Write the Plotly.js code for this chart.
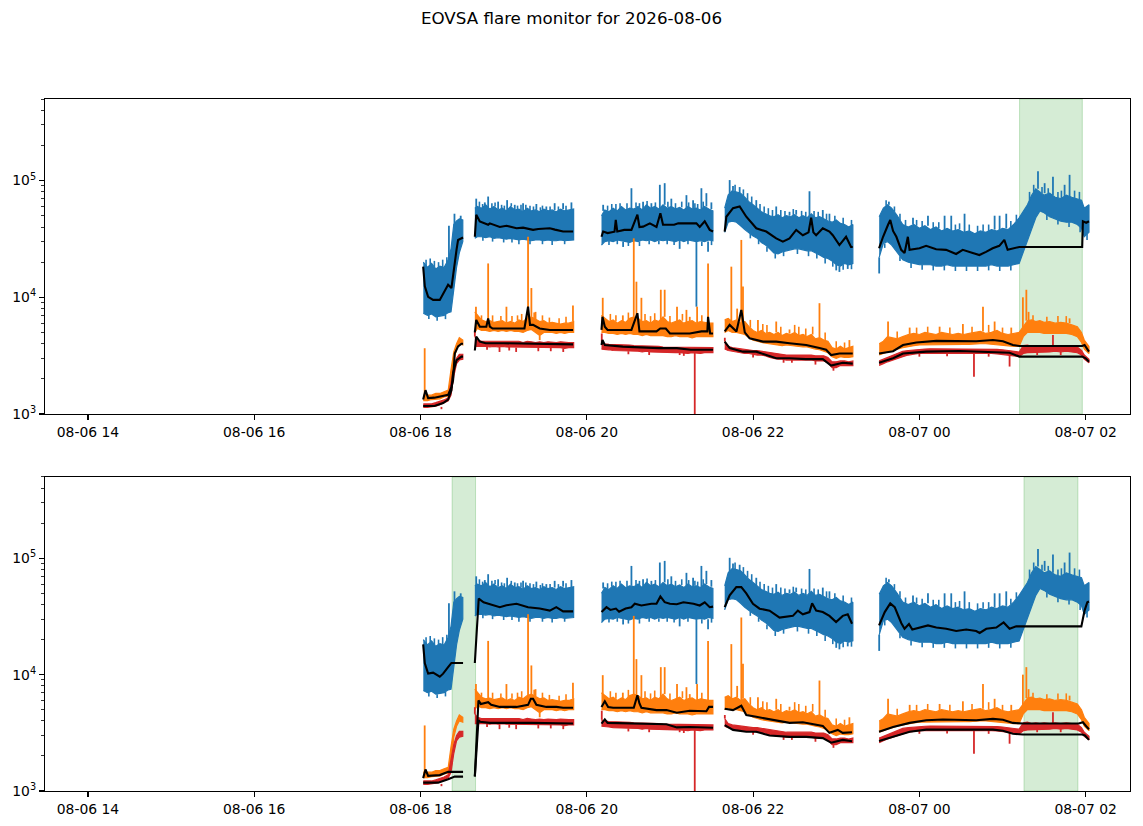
<!DOCTYPE html>
<html>
<head>
<meta charset="utf-8">
<script src="https://cdn.plot.ly/plotly-3.0.1.min.js"></script>
<style>
  body { margin: 0; background: #fff; }
  #chart { width: 1143px; height: 826px; }
</style>
</head>
<body>
<div id="chart"></div>
<script>
// time axis: minutes after 2026-08-06 18:00 UT, null marks a data gap
// all flux values below are in units of 1000
const gridT = [
  2, 5, 8, 11, 14, 17, 20, 22, 24, 26, 28, 30.5, null,
  39.2, 41, 44, 47, 50, 53, 56, 59, 62, 65, 68, 71, 74, 77, 80, 83, 86, 89, 92, 95, 98, 101, 104, 107, 110.5, null,
  130.6, 133, 136, 139, 142, 145, 148, 151, 154, 157, 160, 163, 166, 169, 172, 175, 178, 181, 184, 187, 190, 193, 196, 199, 202, 205, 208, 211, null,
  219.5, 222, 225, 228, 231, 234, 237, 240, 243, 246, 249, 252, 255, 258, 261, 264, 267, 270, 273, 276, 279, 282, 285, 288, 291, 294, 297, 300, 303, 306, 309, 312, null,
  331, 334, 337, 340, 344, 348, 352, 356, 360, 364, 368, 372, 376, 380, 384, 388, 392, 396, 400, 404, 408, 412, 416, 420, 424, 428, 432, 435, 438, 441, 444, 447, 450, 454, 458, 462, 466, 470, 474, 477, 479, 482.4
];

// upper / lower edge of each noisy channel
const blueHi = [
  20, 18, 19.5, 17.5, 18.5, 18, 21, 26, 42, 45, 47, 46, null,
  58, 60, 58, 62, 57, 60, 56, 58, 55, 60, 56, 57, 54, 58, 55, 56, 54, 57, 55, 56, 54, 57, 55, 56, 57, null,
  50, 56, 54, 58, 55, 60, 56, 58, 57, 60, 56, 62, 58, 60, 57, 62, 58, 60, 57, 59, 56, 60, 57, 58, 56, 60, 57, 55, null,
  58, 75, 82, 80, 78, 72, 66, 62, 58, 54, 52, 50, 49, 51, 48, 50, 49, 51, 48, 50, 48, 52, 48, 49, 47, 45, 44, 46, 43, 42, 40, 42, null,
  49, 58, 62, 58, 50, 42, 40, 42, 39, 41, 38, 40, 37, 39, 37, 38, 36, 37, 35, 37, 36, 38, 37, 39, 38, 42, 48, 55, 62, 75, 85, 80, 75, 78, 72, 70, 75, 72, 70, 68, 58, 62
];
const blueLo = [
  7.3, 7.0, 7.2, 6.8, 6.9, 7.0, 7.4, 7.5, 11, 18, 24, 30, null,
  32, 33, 33, 32.5, 33, 32, 32.5, 32, 31.5, 32, 31.5, 31, 31.5, 31, 30.5, 31, 31, 30.5, 31, 30.5, 30.5, 31, 30.5, 30.5, 31, null,
  28, 30, 30.5, 30, 31, 30.5, 30, 29.5, 30.5, 30, 31, 30.5, 31, 30, 31, 30.5, 31, 30.5, 30, 31, 30, 31, 30.5, 30, 30.5, 30, 31, 30.5, null,
  36, 44, 45, 44, 41, 38, 35.5, 33.5, 32, 29.5, 28, 26, 24, 23.5, 24.5, 25, 25.5, 26, 26, 25.5, 25, 25, 24, 23, 22, 21.5, 20.5, 19, 18.5, 19.5, 19, 19.5, null,
  22, 29, 30, 28, 24, 21, 20, 19.5, 19, 19, 19, 18.5, 18.5, 19, 18.5, 18.5, 18.5, 18.5, 18.5, 18.5, 18.5, 19, 18.5, 18.5, 18.5, 19, 19.5, 24, 30, 38, 48, 55, 53, 49, 47, 45, 44, 44, 42, 39, 33, 36
];
const orHi = [
  1.45, 1.45, 1.45, 1.5, 1.5, 1.55, 1.6, 2.4, 3.4, 4.0, 4.5, 4.3, null,
  7.5, 7.0, 6.4, 6.2, 6.3, 6.1, 6.2, 6.3, 6.0, 6.2, 6.0, 6.4, 6.2, 6.6, 6.8, 6.5, 6.2, 6.3, 6.0, 6.1, 6.0, 5.9, 6.0, 6.0, 6.2, null,
  7.0, 6.6, 6.2, 6.4, 6.0, 6.3, 6.1, 6.6, 6.8, 6.6, 6.2, 6.3, 6.0, 6.4, 6.2, 6.8, 6.2, 6.0, 6.2, 6.4, 6.0, 6.2, 6.3, 6.0, 6.2, 6.1, 6.0, 6.0, null,
  6.4, 6.6, 6.2, 6.4, 6.0, 6.2, 5.6, 5.2, 5.0, 5.2, 4.9, 5.0, 4.8, 5.0, 4.7, 4.9, 4.8, 5.0, 4.7, 4.8, 4.6, 4.8, 4.4, 4.5, 4.3, 4.2, 3.7, 3.6, 3.8, 3.6, 3.7, 3.8, null,
  4.0, 4.2, 4.6, 4.5, 4.4, 4.6, 4.8, 4.9, 4.8, 5.0, 4.9, 4.8, 5.0, 4.9, 4.8, 4.9, 4.8, 4.9, 5.0, 5.1, 4.9, 5.0, 5.2, 4.9, 4.8, 4.9, 5.0, 5.6, 6.3, 6.4, 6.2, 6.3, 6.1, 6.2, 6.0, 6.1, 6.0, 5.8, 5.6, 5.0, 4.3, 3.8
];
const orLo = [
  1.3, 1.3, 1.33, 1.35, 1.35, 1.4, 1.42, 1.6, 2.9, 3.6, 4.0, 3.9, null,
  5.0, 5.4, 5.2, 5.2, 5.1, 5.2, 5.1, 5.2, 5.1, 5.2, 5.1, 5.1, 5.0, 5.2, 5.3, 5.0, 4.7, 5.0, 5.0, 5.0, 4.9, 5.0, 4.9, 5.0, 5.0, null,
  5.0, 5.0, 4.9, 4.9, 4.8, 4.9, 4.8, 4.9, 4.8, 4.8, 4.7, 4.8, 4.7, 4.7, 4.7, 4.7, 4.6, 4.6, 4.7, 4.6, 4.6, 4.6, 4.5, 4.6, 4.6, 4.6, 4.6, 4.6, null,
  5.0, 5.2, 5.0, 5.0, 4.9, 4.8, 4.5, 4.3, 4.2, 4.1, 4.0, 4.0, 3.9, 3.9, 3.85, 3.9, 3.85, 3.8, 3.8, 3.75, 3.75, 3.7, 3.6, 3.55, 3.45, 3.35, 3.1, 3.0, 3.1, 3.05, 3.05, 3.1, null,
  3.2, 3.3, 3.4, 3.5, 3.6, 3.7, 3.8, 3.85, 3.9, 3.9, 3.95, 3.95, 3.95, 3.95, 3.95, 3.95, 3.95, 3.95, 3.95, 4.0, 4.0, 3.95, 3.95, 3.9, 3.85, 3.8, 3.8, 4.6, 5.0, 5.0, 5.0, 5.0, 4.9, 4.9, 4.9, 4.9, 4.9, 4.8, 4.6, 4.1, 3.6, 3.3
];
const redHi = [
  1.22, 1.22, 1.22, 1.25, 1.28, 1.32, 1.38, 1.9, 2.5, 3.0, 3.25, 3.25, null,
  4.6, 4.3, 4.2, 4.2, 4.15, 4.2, 4.15, 4.2, 4.15, 4.2, 4.15, 4.2, 4.1, 4.2, 4.15, 4.1, 4.15, 4.1, 4.15, 4.1, 4.1, 4.15, 4.1, 4.1, 4.1, null,
  4.1, 4.0, 3.95, 3.95, 3.95, 3.9, 3.9, 3.9, 3.85, 3.85, 3.85, 3.8, 3.8, 3.8, 3.8, 3.75, 3.75, 3.75, 3.75, 3.75, 3.7, 3.7, 3.7, 3.7, 3.7, 3.7, 3.7, 3.7, null,
  4.2, 3.8, 3.7, 3.65, 3.6, 3.55, 3.55, 3.5, 3.5, 3.45, 3.4, 3.35, 3.3, 3.25, 3.25, 3.2, 3.2, 3.2, 3.2, 3.2, 3.2, 3.2, 3.15, 3.15, 3.15, 3.05, 2.8, 2.8, 2.85, 2.85, 2.8, 2.85, null,
  2.85, 2.95, 3.05, 3.15, 3.3, 3.45, 3.5, 3.55, 3.6, 3.6, 3.62, 3.62, 3.62, 3.62, 3.62, 3.62, 3.62, 3.6, 3.6, 3.6, 3.6, 3.6, 3.58, 3.55, 3.5, 3.45, 3.4, 3.85, 3.9, 3.8, 3.85, 3.8, 3.85, 3.8, 3.85, 3.8, 3.85, 3.8, 3.75, 3.5, 3.2, 2.95
];
const redLo = [
  1.14, 1.14, 1.15, 1.17, 1.2, 1.24, 1.3, 1.45, 2.1, 2.7, 2.9, 2.95, null,
  3.8, 3.85, 3.8, 3.8, 3.75, 3.8, 3.75, 3.8, 3.75, 3.75, 3.7, 3.75, 3.7, 3.75, 3.7, 3.7, 3.75, 3.7, 3.7, 3.7, 3.7, 3.7, 3.65, 3.7, 3.7, null,
  3.6, 3.55, 3.55, 3.5, 3.5, 3.5, 3.45, 3.45, 3.45, 3.45, 3.4, 3.45, 3.4, 3.4, 3.4, 3.4, 3.35, 3.35, 3.35, 3.35, 3.35, 3.3, 3.35, 3.35, 3.3, 3.35, 3.35, 3.35, null,
  3.6, 3.5, 3.45, 3.4, 3.35, 3.3, 3.3, 3.25, 3.2, 3.2, 3.15, 3.05, 3.0, 2.95, 2.95, 2.9, 2.9, 2.9, 2.9, 2.9, 2.9, 2.9, 2.85, 2.85, 2.85, 2.75, 2.5, 2.5, 2.6, 2.6, 2.6, 2.6, null,
  2.6, 2.7, 2.8, 2.9, 3.0, 3.1, 3.2, 3.25, 3.3, 3.3, 3.32, 3.32, 3.32, 3.32, 3.32, 3.32, 3.32, 3.3, 3.3, 3.3, 3.3, 3.3, 3.28, 3.25, 3.2, 3.15, 3.1, 3.3, 3.35, 3.35, 3.4, 3.35, 3.4, 3.4, 3.45, 3.4, 3.45, 3.4, 3.35, 3.2, 2.95, 2.75
];

// single-sample spikes: time, level it leaves from, level it reaches
const blueSpkT = [20.5, 24.5, 29, 40.2, 46.4, 48.8, 56, 62.5, 68, 74, 83.6, 90.8, 96.8, 102.9, 108.9,
  131.8, 146.2, 152.2, 160.6, 166.6, 172.7, 176.2, 181, 187, 191.9, 196.7, 199.1, 202.7, 206.3, 207.5, 209.9,
  223.1, 225.5, 230.3, 242.3, 256.7, 266.3, 271.1, 280.7, 290.3, 295.1, 300, 302.3, 308.3,
  331, 338, 355.4, 366.2, 378.2, 383, 392.6, 414.3, 417.9, 422.7, 445.6, 450.4, 456.4, 464.8, 468.4];
const blueSpkFrom = [21, 40, 46, 58, 60, 58, 57, 55, 56, 54, 56, 56, 56, 57, 56,
  55, 30, 58, 56, 58, 57, 62, 60, 31, 58, 57, 30, 56, 60, 30, 57,
  75, 82, 78, 58, 49, 50, 51, 48, 47, 45, 19, 18.5, 19,
  22, 62, 42, 41, 38, 37, 36, 38, 37, 39, 85, 78, 75, 72, 72];
const blueSpkTo = [41, 52, 50, 70, 65, 73, 66, 68, 62, 64, 63, 60, 64, 64, 65,
  62, 27, 86, 66, 64, 92, 95, 70, 26, 75, 68, 8.3, 86, 78, 24.6, 65,
  101, 90, 88, 68, 60, 54, 56, 81, 56, 52, 17, 16.5, 17.5,
  16, 66, 48, 50, 50, 50, 52, 50, 50, 52, 120, 95, 108, 92, 112];

// smaller flickers along the band edges
const blueFuzzT = [4, 7, 10, 13, 16, 19, 6, 12, 18,
  42.5, 44.8, 51.5, 53.8, 58.5, 60.5, 65.5, 70, 72.5, 76, 79, 81.5, 86.5, 88, 93.5, 99.5, 105,
  45, 52, 60, 66, 71, 79, 88, 95, 104,
  135, 138, 141, 144, 149, 155.5, 158, 163.5, 169.5, 178.5, 184, 188.5, 193.5, 198, 200, 204,
  136, 142, 150, 158, 165, 172, 178, 183, 193, 203, 210,
  227, 233, 236, 239, 245, 248, 251, 254, 260, 263, 269, 275, 278, 284, 287, 293, 299, 305, 311,
  238, 244, 250, 256, 262, 272, 280, 286, 292, 297.5, 305, 311,
  336, 342, 346, 350, 358, 362, 370, 374, 386, 389, 396, 402, 406, 410, 426, 430, 439.5, 442.5, 448.5, 453, 460, 462.5, 472, 475.5,
  335, 346, 354, 362, 370, 378, 386, 394, 402, 410, 418, 426, 452, 460, 468, 476, 481];
const blueFuzzFrom = [18, 19, 18, 17.5, 18, 19, 7.1, 6.8, 7.1,
  59, 58, 58, 60, 57, 56, 60, 56, 56, 56, 56, 55, 54, 56, 55, 55, 55,
  33, 32.5, 32, 32, 31, 30.8, 30.7, 30.5, 30.5,
  55, 57, 56, 58, 57, 59, 59, 60, 59, 59, 57, 59, 59, 58, 57, 58,
  30.5, 31, 29.7, 30, 30.7, 30.5, 31, 30.5, 31, 30, 30.7,
  80, 73, 68, 63, 55, 53, 50, 49, 49, 49, 50, 49, 48, 49, 48, 46, 45, 42, 41,
  35, 31, 27, 23.7, 24.7, 26, 25, 23.7, 21.7, 20.3, 19, 19.3,
  61, 54, 46, 41, 41, 40, 39, 39, 37.5, 38, 37, 36, 37, 37, 40, 45, 68, 80, 78, 77, 71, 70, 71, 69,
  29, 22.5, 19.7, 19, 18.7, 18.7, 18.5, 18.5, 18.5, 18.7, 18.5, 18.7, 51, 46, 44, 40, 35];
const blueFuzzTo = [21, 21.5, 20.5, 20, 21, 22, 6.5, 6.3, 6.5,
  66, 63, 64, 65, 62, 61, 64, 61, 62, 62, 61, 60, 59, 61, 60, 60, 61,
  30.5, 30, 29.5, 29.5, 28.5, 28.5, 28.5, 28, 28.5,
  61, 63, 63, 64, 64, 65, 64, 67, 65, 66, 64, 66, 65, 64, 63, 66,
  28, 28.5, 27.5, 27.5, 28.5, 28.5, 28.5, 28, 28.5, 27.5, 28,
  92, 84, 78, 73, 63, 60, 58, 56, 56, 55, 57, 55, 54, 55, 54, 52, 50, 48, 46,
  32, 28.5, 24.5, 21.5, 22.5, 23.5, 22.5, 21.5, 19.5, 18.3, 17.2, 17.4,
  68, 60, 52, 46, 46, 45, 44, 44, 42, 43, 42, 41, 42, 42, 45, 51, 80, 92, 88, 86, 80, 82, 82, 80,
  26.5, 20.5, 17.8, 17.2, 17, 17, 16.8, 16.8, 16.8, 17, 16.8, 17, 46, 42, 40, 36, 31];

const orSpkT = [3, 40, 48.8, 62, 77.6, 80, 83, 86, 110,
  131.5, 146, 153.9, 155.8, 159.4, 173.4, 176.2, 185.1, 191.9, 194.3, 199.6, 207.5,
  224.3, 228.5, 231.5, 232.7, 243.5, 256.7, 266.3, 287.9, 309.5,
  337.4, 353, 374.6, 391.4, 405.9, 414.3, 426.3, 434.7, 437.2, 438.8, 468.4];
const orSpkFrom = [1.45, 7.0, 6.2, 6.0, 6.6, 6.8, 6.5, 4.7, 6.2,
  6.8, 6.1, 6.8, 6.6, 6.2, 6.2, 6.8, 6.2, 6.0, 6.2, 6.0, 6.0,
  6.2, 6.4, 6.0, 6.2, 5.0, 5.0, 4.9, 4.5, 3.7,
  4.6, 4.8, 4.8, 4.8, 5.1, 5.0, 4.8, 5.0, 6.3, 6.3, 6.0];
const orSpkTo = [3.66, 8.3, 19.5, 8.3, 33, 12, 7.5, 4.3, 8.5,
  9.9, 7.0, 32, 13.6, 9.9, 11.6, 11.6, 8.3, 7.8, 6.8, 8.3, 19.5,
  18.3, 8.0, 31, 12.4, 6.4, 6.2, 5.3, 8.9, 4.3,
  6.2, 5.5, 5.6, 5.9, 8.3, 6.2, 5.5, 10, 11.6, 7.5, 6.6];
const orFuzzT = [44, 52, 58, 66, 70, 73, 82, 88, 93, 100, 105,
  137, 141, 150, 162, 166, 169, 180, 189, 203,
  238, 247, 250, 260, 270, 273, 278, 283, 292, 300, 306,
  344, 358, 366, 382, 398, 410, 420, 442, 452, 460, 466];
const orFuzzFrom = [6.4, 6.2, 6.3, 6.2, 6.3, 6.2, 6.6, 6.3, 6.0, 5.9, 6.0,
  6.3, 6.2, 6.4, 6.3, 6.0, 6.4, 6.0, 6.3, 6.1,
  5.5, 5.1, 4.95, 4.8, 5.0, 4.7, 4.7, 4.8, 4.3, 3.6, 3.6,
  4.4, 4.85, 4.95, 4.85, 4.95, 5.0, 4.9, 6.3, 6.1, 6.1, 6.0];
const orFuzzTo = [7.0, 7.0, 6.9, 6.9, 7.0, 7.2, 7.4, 7.0, 6.7, 6.6, 6.8,
  7.2, 7.0, 7.4, 7.2, 6.9, 7.3, 6.9, 7.2, 7.0,
  6.4, 5.9, 5.8, 5.6, 5.8, 5.6, 5.4, 5.6, 5.0, 4.2, 4.1,
  5.1, 5.5, 5.6, 5.5, 5.6, 5.8, 5.5, 7.0, 6.8, 6.9, 6.9];

const redSpkT = [15.1, 39.2, 57, 69, 103, 130.8, 187, 197.9, 219.6, 268, 399.4, 425.1, 456.4,
  48, 64, 85, 94, 150, 165, 190, 240, 262, 285, 298, 360, 380, 410, 445, 462];
const redSpkFrom = [1.15, 4.6, 3.75, 3.7, 3.65, 4.1, 3.35, 3.35, 4.2, 2.9, 3.3, 3.2, 3.85,
  3.8, 3.75, 3.7, 3.7, 3.45, 3.4, 3.35, 3.25, 2.95, 2.85, 2.5, 3.3, 3.32, 3.3, 3.4, 3.4];
const redSpkTo = [1.1, 5.25, 3.4, 3.4, 3.4, 4.9, 3.2, 0.6, 4.5, 2.75, 2.09, 2.55, 4.75,
  3.55, 3.5, 3.45, 3.45, 3.25, 3.2, 3.15, 3.05, 2.75, 2.65, 2.35, 3.1, 3.12, 3.1, 3.2, 3.2];

// smoothed curves (black), upper panel
const smTopBlueT = [1.9, 3.1, 5.5, 9.1, 13.9, 16.3, 19.9, 22.3, 24.7, 26, 27.1, 29.6, 30.7, null,
  39.2, 40.2, 42.8, 48.8, 50, 57.2, 62, 69.3, 74, 81.2, 85, 93.3, 97, 102.9, 110.1, null,
  130.6, 131.8, 135, 140, 140.9, 142, 147, 152.2, 156.5, 158, 160.6, 165.5, 170.3, 173.1, 175, 183, 186, 199.1, 201.5, 205.1, 208.7, 211.1, null,
  219.5, 220.7, 225.5, 230.3, 235.1, 242.3, 249.5, 256.7, 261.5, 266.3, 271.1, 275.9, 280, 281.9, 283.5, 285.5, 290.3, 295.1, 297.5, 302.3, 307.1, 310.7, 311.9, null,
  330.9, 333.8, 337.4, 339, 341, 343.4, 346.9, 349.3, 351.7, 352.9, 360.1, 364.9, 372.1, 379.3, 386.5, 391.3, 398.5, 403.3, 408.1, 412.9, 417.7, 421.3, 423.7, 427.3, 432.1, 477.5, 478, 480.4, 482.4];
const smTopBlueV = [18.3, 12.4, 10.1, 9.5, 9.5, 10.8, 12.8, 12, 21, 25.6, 31, 32, 32.5, null,
  33, 51, 44.7, 41.8, 43, 40, 41, 39, 39.5, 37.8, 38.5, 39, 38, 36.6, 36.6, null,
  33, 36.6, 35.5, 36.5, 46, 36.6, 37.8, 37.8, 51, 40, 40.3, 43, 40, 52.5, 41.8, 41.8, 43, 43, 40, 44.8, 37.8, 36.6, null,
  36.6, 49, 58, 60, 49, 39, 36.6, 32, 30, 32, 37.8, 34, 36, 48, 36, 34, 39, 36.6, 34, 28, 33, 27, 27, null,
  26.3, 33, 41.8, 46, 37, 33, 25.5, 23.9, 33, 25.5, 26.3, 27.6, 25.8, 25.5, 23.5, 25.5, 24, 23, 24.5, 26.3, 27.6, 31, 25.5, 26.3, 27, 27, 44.8, 43.5, 44.8];
const smTopOrT = [1.9, 3.6, 5.5, 10, 19.9, 22.3, 23.5, 24.7, 27.1, 29.6, 30.7, null,
  39.2, 40.2, 42.8, 47.5, 48.8, 50, 52, 75, 77.6, 79, 81.2, 86, 93.3, 110.1, null,
  130.6, 131.3, 133, 135, 152.2, 156.5, 158, 160.6, 170.3, 173, 177, 180, 194.3, 202.7, 207, 207.5, 209, 211.1, null,
  219.5, 223.1, 228, 231.5, 234, 237.5, 247.1, 256.7, 266.3, 278.3, 287.9, 292.7, 296.3, 302.3, 311.9, null,
  330.9, 341, 348.2, 357.8, 372.2, 389, 401, 413.1, 420.3, 427.5, 432.3, 477.5, 479.2, 482.4];
const smTopOrV = [1.33, 1.6, 1.37, 1.38, 1.46, 1.7, 1.95, 3.3, 3.8, 4.0, 4.0, null,
  5.0, 6.4, 5.6, 5.6, 6.6, 5.6, 5.4, 5.4, 8.3, 5.8, 5.8, 5.4, 5.25, 5.25, null,
  5.25, 6.8, 5.6, 5.25, 5.25, 7.3, 5.1, 5.1, 5.1, 5.4, 5.4, 4.9, 4.9, 5.1, 5.1, 6.8, 4.9, 4.9, null,
  5.1, 5.8, 5.1, 7.8, 5.0, 4.45, 4.17, 4.17, 4.04, 3.9, 3.67, 3.55, 3.2, 3.3, 3.3, null,
  3.3, 3.45, 3.9, 4.1, 4.23, 4.2, 4.2, 4.3, 4.2, 3.9, 3.83, 3.83, 3.9, 3.42];
const smTopRedT = [1.9, 10, 16.3, 19.9, 22.3, 23.5, 26, 29.6, 30.7, null,
  39.2, 40.2, 42.8, 47, 60, 80, 95, 110.1, null,
  130.6, 131.3, 133, 146, 172, 185, 195, 211.1, null,
  219.5, 223.1, 232.7, 242.3, 256.7, 266.3, 278, 290.3, 296.3, 304.7, 311.9, null,
  330.9, 341, 348.2, 365, 389, 413.1, 425.1, 432.3, 477.5, 480, 482.4];
const smTopRedV = [1.17, 1.17, 1.24, 1.33, 1.6, 2.25, 2.9, 3.1, 3.1, null,
  3.5, 4.6, 4.17, 4.04, 4.04, 4.0, 3.98, 3.95, null,
  3.9, 4.3, 3.9, 3.78, 3.67, 3.67, 3.55, 3.55, null,
  4.17, 3.67, 3.42, 3.42, 3.0, 3.0, 2.95, 2.95, 2.6, 2.75, 2.7, null,
  2.75, 3.0, 3.3, 3.42, 3.47, 3.42, 3.35, 3.1, 3.1, 3.0, 2.8];

// smoothed curves (black), lower panel
const smBotBlueT = [1.9, 3.1, 5.5, 9.1, 13.9, 16.3, 19.9, 22.3, 30.7, null,
  39.2, 42, 45.5, 57.2, 62, 69.3, 77.6, 86, 93.3, 98, 102.9, 110.1, null,
  130.6, 134.2, 137, 141, 143.3, 148, 152.2, 154.6, 159.4, 166.6, 170.3, 173.1, 176.2, 180, 184.9, 189.7, 197, 201.5, 205.1, 208.7, 211.1, null,
  219.5, 223.1, 227.9, 231.5, 235.1, 239.9, 244.7, 251.9, 259.1, 263.9, 268.7, 272.3, 275.9, 280.7, 282.6, 285.5, 290.3, 295.1, 299.9, 304.7, 308.3, 311.4, null,
  330.9, 335, 339, 342.2, 344.6, 347, 349.3, 352.5, 354.9, 360.1, 366.2, 372.2, 379.4, 386.6, 393.8, 401, 403.5, 408.3, 415.5, 420.8, 425.1, 429.9, 434.7, 476.9, 479.2, 481.2, 482.4];
const smBotBlueV = [18.2, 12.5, 10.2, 10.4, 9.6, 10.2, 11.6, 12.6, 12.6, null,
  12.6, 45, 41.9, 38, 39.5, 40.7, 38, 37, 35.5, 38, 35, 35, null,
  34.5, 38, 36, 37, 34.8, 37, 38, 40.7, 39.3, 40.7, 40.7, 47, 42, 40.7, 40.3, 41.9, 40.7, 39.3, 41.9, 38, 38.4, null,
  38, 48, 56.5, 56.5, 50, 40.7, 36.9, 35.5, 30.9, 31.5, 32, 35.5, 33, 34.5, 41, 35.5, 34.5, 32, 28.3, 32, 33, 27.4, null,
  26.5, 34.5, 41, 38, 32.4, 27.7, 24.8, 27.2, 24.4, 25.4, 26.5, 25.4, 24.8, 23.7, 24.4, 23.7, 22.8, 24.8, 25.4, 28.1, 24.8, 26, 26, 26, 35.5, 41.9, 42.5];
const smBotOrT = [1.9, 3.6, 5.5, 13.9, 19.9, 30.7, null,
  39.2, 41.8, 43.5, 48.8, 51, 57.2, 69.3, 77.6, 79.6, 81.2, 83.6, 90.8, 98, 102.9, 110.1, null,
  130.6, 133, 135.4, 139, 147, 153.9, 156.5, 158, 159.4, 170.3, 177.5, 184.9, 194.3, 206.3, 208.2, 211.1, null,
  219.5, 225.5, 231.5, 235.1, 242.3, 254.3, 266.3, 275.9, 285.5, 290.3, 295.1, 301.1, 304.7, 311.4, null,
  330.9, 341, 353, 365, 377, 389, 401, 413.1, 420.3, 427.5, 434.7, 475, 478, 480.4, 482.4];
const smBotOrV = [1.29, 1.53, 1.35, 1.37, 1.46, 1.46, null,
  1.34, 6.0, 5.6, 5.8, 5.5, 5.28, 5.28, 5.5, 6.2, 6.2, 5.5, 5.28, 5.28, 5.2, 5.2, null,
  5.28, 5.9, 5.28, 5.2, 5.2, 5.2, 6.65, 5.65, 5.2, 4.96, 4.96, 4.7, 4.9, 4.85, 5.28, 5.28, null,
  5.1, 4.96, 5.4, 4.5, 4.34, 4.06, 3.85, 3.9, 3.73, 3.63, 3.16, 3.35, 3.16, 3.2, null,
  3.23, 3.55, 3.85, 4.06, 4.12, 4.06, 4.06, 4.17, 4.1, 3.85, 3.8, 3.8, 3.9, 3.6, 3.4];
const smBotRedT = [1.9, 12.7, 19.9, 24.7, 30.7, null,
  39.2, 41.8, 43, 50, 80, 110.1, null,
  130.6, 133, 135, 153.9, 177.5, 185, 194.3, 211.1, null,
  219.5, 225.5, 235.1, 242.3, 251.9, 266.3, 278.3, 290.3, 296.3, 304.7, 311.4, null,
  330.9, 341, 353, 365, 389, 413.1, 420.3, 427.5, 434.7, 477.5, 479.5, 482.4];
const smBotRedV = [1.18, 1.18, 1.26, 1.33, 1.33, null,
  1.33, 4.06, 3.93, 3.85, 3.85, 3.8, null,
  3.8, 4.12, 3.85, 3.8, 3.75, 3.52, 3.55, 3.5, null,
  3.68, 3.35, 3.23, 3.23, 3.0, 2.92, 2.92, 2.85, 2.6, 2.75, 2.68, null,
  2.69, 2.92, 3.23, 3.37, 3.37, 3.37, 3.3, 3.1, 3.06, 3.06, 3.0, 2.75];

// flagged flare intervals (minutes after 18:00)
const topFlareStart = [432.3], topFlareEnd = [477.6];
const botFlareStart = [22.8, 435.5], botFlareEnd = [39.7, 474.4];

const BLUE = '#1f77b4', ORANGE = '#ff7f0e', RED = '#d62728';
const T0 = Date.UTC(2026, 7, 6, 18, 0, 0);

function tx(t) {
  if (t === null) return null;
  return new Date(T0 + t * 60000).toISOString().slice(0, 19).replace('T', ' ');
}
const k = v => (v === null ? null : v * 1000);

// noisy channel drawn as a filled band between its upper and lower edge
function band(hi, lo, color, xa, ya) {
  const xs = [], ys = [];
  let seg = [];
  const flush = () => {
    if (!seg.length) return;
    seg.forEach(i => { xs.push(tx(gridT[i])); ys.push(k(hi[i])); });
    seg.slice().reverse().forEach(i => { xs.push(tx(gridT[i])); ys.push(k(lo[i])); });
    xs.push(null); ys.push(null);
    seg = [];
  };
  gridT.forEach((t, i) => { if (t === null) flush(); else seg.push(i); });
  flush();
  return { x: xs, y: ys, xaxis: xa, yaxis: ya, mode: 'lines', fill: 'toself',
    fillcolor: color, line: { color: color, width: 1.2 }, hoverinfo: 'skip', showlegend: false };
}

function spikes(T, from, to, color, xa, ya, w) {
  const xs = [], ys = [];
  T.forEach((t, i) => { xs.push(tx(t), tx(t), null); ys.push(k(from[i]), k(to[i]), null); });
  return { x: xs, y: ys, xaxis: xa, yaxis: ya, mode: 'lines',
    line: { color: color, width: w }, hoverinfo: 'skip', showlegend: false };
}

function smooth(T, V, xa, ya) {
  return { x: T.map(tx), y: V.map(k), xaxis: xa, yaxis: ya, mode: 'lines',
    line: { color: 'black', width: 2.1 }, hoverinfo: 'skip', showlegend: false };
}

const traces = [];
[['x', 'y'], ['x2', 'y2']].forEach(([xa, ya]) => {
  traces.push(band(blueHi, blueLo, BLUE, xa, ya));
  traces.push(spikes(blueFuzzT, blueFuzzFrom, blueFuzzTo, BLUE, xa, ya, 1.6));
  traces.push(spikes(blueSpkT, blueSpkFrom, blueSpkTo, BLUE, xa, ya, 1.8));
  traces.push(band(orHi, orLo, ORANGE, xa, ya));
  traces.push(spikes(orFuzzT, orFuzzFrom, orFuzzTo, ORANGE, xa, ya, 1.6));
  traces.push(spikes(orSpkT, orSpkFrom, orSpkTo, ORANGE, xa, ya, 1.8));
  traces.push(band(redHi, redLo, RED, xa, ya));
  traces.push(spikes(redSpkT, redSpkFrom, redSpkTo, RED, xa, ya, 1.8));
});
traces.push(smooth(smTopBlueT, smTopBlueV, 'x', 'y'));
traces.push(smooth(smTopOrT, smTopOrV, 'x', 'y'));
traces.push(smooth(smTopRedT, smTopRedV, 'x', 'y'));
traces.push(smooth(smBotBlueT, smBotBlueV, 'x2', 'y2'));
traces.push(smooth(smBotOrT, smBotOrV, 'x2', 'y2'));
traces.push(smooth(smBotRedT, smBotRedV, 'x2', 'y2'));

const shapes = [];
const addFlares = (starts, ends, xref, yref) => starts.forEach((s, i) => shapes.push({
  type: 'rect', xref: xref, yref: yref + ' domain', x0: tx(s), x1: tx(ends[i]), y0: 0, y1: 1,
  fillcolor: 'rgba(44,160,44,0.2)', line: { color: 'rgba(44,160,44,0.25)', width: 1 }, layer: 'below'
}));
addFlares(topFlareStart, topFlareEnd, 'x', 'y');
addFlares(botFlareStart, botFlareEnd, 'x2', 'y2');

const minorVals = [];
[1e3, 1e4, 1e5].forEach(d => { for (let m = 2; m <= 9; m++) if (m * d <= 5e5) minorVals.push(m * d); });

const xAxis = (anchor) => ({
  type: 'date', anchor: anchor,
  range: ['2026-08-06 13:29:00', '2026-08-07 02:32:00'],
  tick0: '2026-08-06 14:00:00', dtick: 7200000, tickformat: '%m-%d %H',
  ticks: 'outside', ticklen: 5, tickwidth: 1.1, tickcolor: 'black',
  showline: true, mirror: true, linecolor: 'black', linewidth: 1.1,
  showgrid: false, zeroline: false, automargin: false
});
const yAxis = (anchor, domain) => ({
  type: 'log', anchor: anchor, domain: domain, range: [3, Math.log10(5e5)],
  tickmode: 'array', tickvals: [1e3, 1e4, 1e5],
  ticktext: ['10<sup>3</sup>', '10<sup>4</sup>', '10<sup>5</sup>'],
  ticks: 'outside', ticklen: 5, tickwidth: 1.1, tickcolor: 'black',
  minor: { tickmode: 'array', tickvals: minorVals, ticks: 'outside', ticklen: 2.8, tickwidth: 0.8, tickcolor: 'black' },
  showline: true, mirror: true, linecolor: 'black', linewidth: 1.1,
  showgrid: false, zeroline: false, automargin: false
});

const layout = {
  width: 1143, height: 826,
  margin: { l: 45, r: 13, t: 99, b: 35 },
  paper_bgcolor: 'white', plot_bgcolor: 'white',
  font: { family: 'DejaVu Sans', size: 13.9, color: 'black' },
  title: { text: 'EOVSA flare monitor for 2026-08-06', x: 0.5, xref: 'container',
    y: 1 - 18 / 826, yref: 'container', yanchor: 'middle', xanchor: 'center',
    font: { family: 'DejaVu Sans', size: 16.7, color: 'black' } },
  xaxis: xAxis('y'),
  yaxis: yAxis('x', [0.5448, 1]),
  xaxis2: xAxis('y2'),
  yaxis2: yAxis('x2', [0, 0.4538]),
  shapes: shapes,
  showlegend: false
};

Plotly.newPlot('chart', traces, layout, { staticPlot: true, displayModeBar: false });
</script>
</body>
</html>
